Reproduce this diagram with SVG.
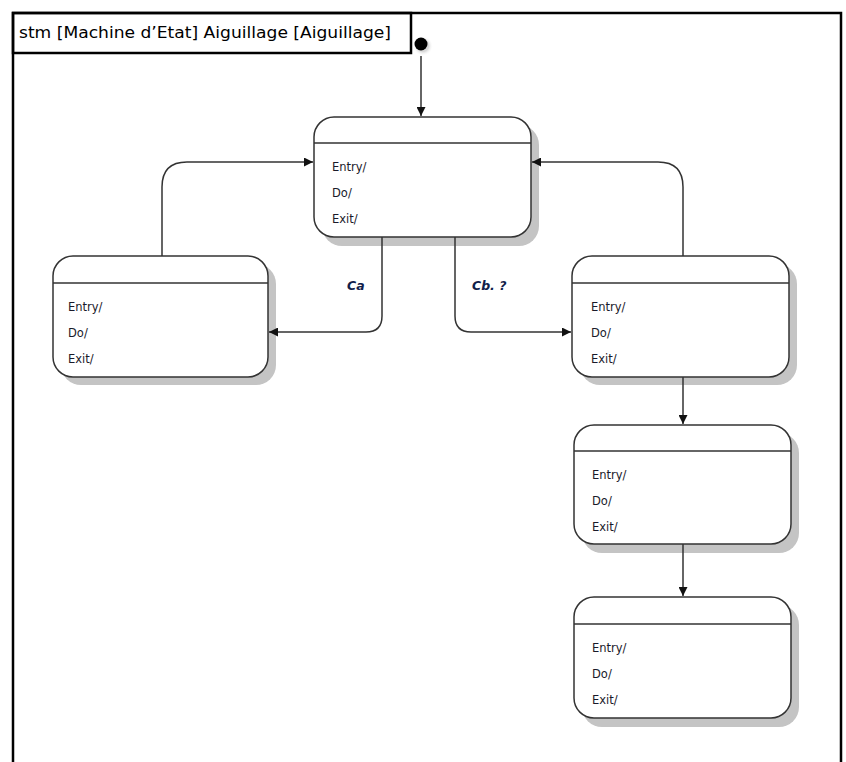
<svg xmlns="http://www.w3.org/2000/svg" width="846" height="762" viewBox="0 0 846 762">
  <style>
    .frame { fill: none; stroke: #000; stroke-width: 2.5; }
    .shadow { fill: #c4c4c4; stroke: none; }
    .state { fill: #fff; stroke: #333; stroke-width: 1.5; }
    .div { stroke: #333; stroke-width: 1.5; }
    .act { font-family: "Comic Sans MS", "DejaVu Sans", sans-serif; font-size: 11.5px; fill: #1a1a2a; }
    .title { font-family: "Comic Sans MS", "DejaVu Sans", sans-serif; font-size: 15px; fill: #000; }
    .guard { font-family: "Comic Sans MS", "DejaVu Sans", sans-serif; font-size: 12.5px; font-weight: bold; font-style: italic; fill: #10204a; }
    .edge { fill: none; stroke: #333; stroke-width: 1.5; }
  </style>
  <defs>
    <marker id="arrow" viewBox="0 0 10 10" refX="10" refY="5" markerWidth="9" markerHeight="9" markerUnits="userSpaceOnUse" orient="auto">
      <path d="M0,0 L10,5 L0,10 Z" fill="#111"/>
    </marker>
    <radialGradient id="halo">
      <stop offset="0.55" stop-color="#d8d8d8"/>
      <stop offset="1" stop-color="#ffffff" stop-opacity="0"/>
    </radialGradient>
  </defs>

  <!-- diagram frame and header -->
  <g id="frame">
    <path class="frame" d="M13,762 V13 H841 V762"/>
    <rect class="frame" x="13" y="13" width="398" height="40" fill="#fff"/>
    <text class="title" x="19" y="38" textLength="372" lengthAdjust="spacingAndGlyphs">stm [Machine d’Etat] Aiguillage [Aiguillage]</text>
  </g>

  <!-- initial pseudo-state -->
  <g id="initial">
    <circle cx="423" cy="46" r="10" fill="url(#halo)"/>
    <circle cx="421" cy="44" r="6.5" fill="#000"/>
  </g>

  <!-- states -->
  <g id="state-center">
    <rect class="shadow" x="322" y="125" width="217" height="121" rx="20"/>
    <rect class="state" x="314" y="117" width="217" height="120" rx="20"/>
    <line class="div" x1="314" y1="143" x2="531" y2="143"/>
    <text class="act" x="332" y="171">Entry/</text>
    <text class="act" x="332" y="197">Do/</text>
    <text class="act" x="332" y="223">Exit/</text>
  </g>

  <g id="state-left">
    <rect class="shadow" x="61" y="264" width="215" height="121" rx="20"/>
    <rect class="state" x="53" y="256" width="215" height="121" rx="20"/>
    <line class="div" x1="53" y1="283" x2="268" y2="283"/>
    <text class="act" x="68" y="311">Entry/</text>
    <text class="act" x="68" y="337">Do/</text>
    <text class="act" x="68" y="363">Exit/</text>
  </g>

  <g id="state-right">
    <rect class="shadow" x="580" y="264" width="217" height="121" rx="20"/>
    <rect class="state" x="572" y="256" width="217" height="121" rx="20"/>
    <line class="div" x1="572" y1="283" x2="789" y2="283"/>
    <text class="act" x="591" y="311">Entry/</text>
    <text class="act" x="591" y="337">Do/</text>
    <text class="act" x="591" y="363">Exit/</text>
  </g>

  <g id="state-mid">
    <rect class="shadow" x="582" y="433" width="217" height="120" rx="20"/>
    <rect class="state" x="574" y="425" width="217" height="119" rx="20"/>
    <line class="div" x1="574" y1="451" x2="791" y2="451"/>
    <text class="act" x="592" y="479">Entry/</text>
    <text class="act" x="592" y="505">Do/</text>
    <text class="act" x="592" y="531">Exit/</text>
  </g>

  <g id="state-bottom">
    <rect class="shadow" x="582" y="605" width="217" height="122" rx="20"/>
    <rect class="state" x="574" y="597" width="217" height="121" rx="20"/>
    <line class="div" x1="574" y1="624" x2="791" y2="624"/>
    <text class="act" x="592" y="652">Entry/</text>
    <text class="act" x="592" y="678">Do/</text>
    <text class="act" x="592" y="704">Exit/</text>
  </g>

  <!-- transitions -->
  <g id="connectors">
    <path class="edge" d="M421,56 V116" marker-end="url(#arrow)"/>
    <path class="edge" d="M162,256 V187 Q162,162 187,162 H313" marker-end="url(#arrow)"/>
    <path class="edge" d="M683,256 V187 Q683,162 658,162 H532" marker-end="url(#arrow)"/>
    <path class="edge" d="M382,237 V316 Q382,332 366,332 H269" marker-end="url(#arrow)"/>
    <path class="edge" d="M455,237 V316 Q455,332 471,332 H571" marker-end="url(#arrow)"/>
    <path class="edge" d="M683,377 V424" marker-end="url(#arrow)"/>
    <path class="edge" d="M683,544 V596" marker-end="url(#arrow)"/>
    <text class="guard" x="347" y="290">Ca</text>
    <text class="guard" x="472" y="290">Cb. ?</text>
  </g>
</svg>
